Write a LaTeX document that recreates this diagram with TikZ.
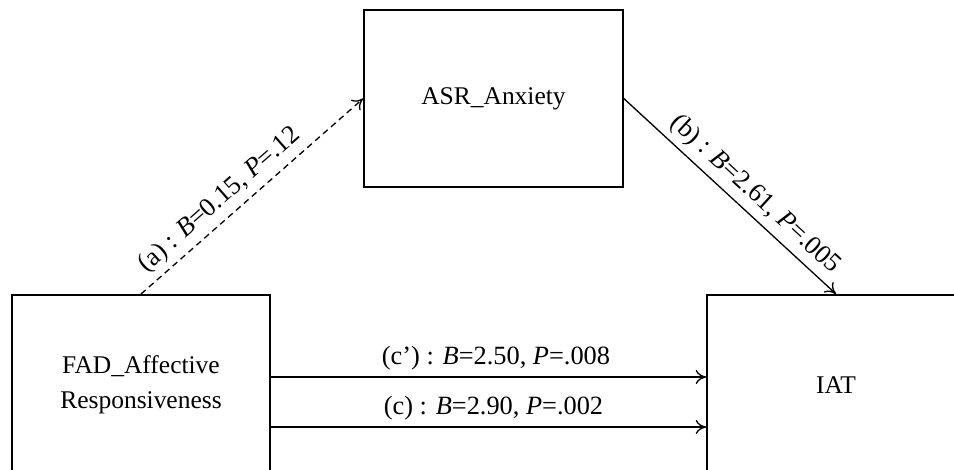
\documentclass[tikz,border=0pt]{standalone}
\usepackage{fontspec}
\setmainfont{Liberation Serif}
\usetikzlibrary{arrows.meta}
\begin{document}
\begin{tikzpicture}[scale=1]
  \tikzset{ var/.style={draw,line width=0.9pt,minimum width=5.16cm,minimum height=3.6cm,
              align=center,font=\fontsize{14.5}{19.5}\selectfont},
            path/.style={line width=0.75pt,-{To[length=6pt,width=8pt]}},
            lab/.style={font=\fontsize{15}{18}\selectfont},
  }
  \useasboundingbox (0,0) rectangle (19.08,-9.38);
  \clip (0,0) rectangle (19.08,-9.38);

  \node[var, minimum width=5.18cm, minimum height=3.54cm] (asr) at (9.87,-1.97) {ASR\_Anxiety};
  \node[var, anchor=north] (fad) at (2.82,-5.88) {FAD\_Affective\\Responsiveness};
  \node[var, anchor=north] (iat) at (16.72,-5.88) {IAT};

  \draw[path, dashed, dash pattern=on 3.5pt off 2.5pt] (fad.north) -- (asr.west)
        node[lab, pos=0.41, above, sloped] {(a) : \textit{B}=0.15, \textit{P}=.12};
  \draw[path] (asr.east) -- (iat.north)
        node[lab, pos=0.56, above, sloped] {(b) : \textit{B}=2.61, \textit{P}=.005};

  \coordinate (c1) at (fad.east |- 0,-7.54);
  \coordinate (c2) at (fad.east |- 0,-8.54);
  \draw[path] (c1) -- (c1 -| iat.west)
        node[lab, midway, above, xshift=0.15cm] {(c’) : \textit{B}=2.50, \textit{P}=.008};
  \draw[path] (c2) -- (c2 -| iat.west)
        node[lab, midway, above, xshift=0.1cm] {(c) : \textit{B}=2.90, \textit{P}=.002};
\end{tikzpicture}
\end{document}
